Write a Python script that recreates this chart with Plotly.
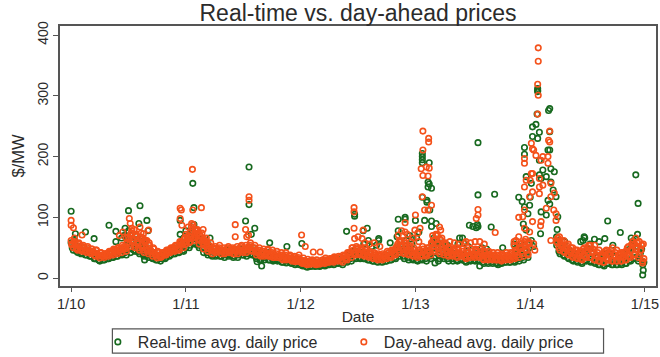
import plotly.graph_objects as go

N = None
# weekly readings of the dense band, one list per year
da_2010 = [62,50,56,46,52,44,50,42,46,40,44,36,40,33,38,34,40,36,44,38,46,40,48,42,52,44,68,52,62,50,60,46,54,42,50,40,46,36,40,33,38,35,42,38,46,42,50,44,54,46,60,50]
da_2011 = [56,64,60,80,62,72,56,66,48,60,44,52,40,48,44,50,40,46,42,50,42,48,40,48,44,52,42,50,46,54,44,50,38,46,36,44,38,46,36,42,34,40,34,38,30,38,32,36,28,34,28,34]
da_2012 = [30,24,28,22,28,24,28,22,26,24,30,24,28,26,32,26,32,28,34,26,36,30,42,34,46,38,48,38,46,36,42,34,40,32,38,30,36,30,38,32,42,34,46,38,56,42,54,40,50,38,46,36]
da_2013 = [40,34,46,36,44,36,50,38,62,44,56,40,52,38,46,36,44,36,44,34,42,36,40,32,42,34,40,34,44,34,40,30,38,30,38,30,36,30,36,28,36,30,36,30,38,32,42,34,50,36,52,40]
da_2014 = [N,N,N,N,N,N,N,N,N,N,N,N,60,50,56,44,52,40,46,36,42,34,40,32,48,36,50,34,44,30,38,28,36,26,44,30,42,28,38,28,38,28,40,30,50,36,56,38,52,34,46,28]

# second reading of the band, half a week later
da2_2010 = [56,66,48,58,46,54,44,52,42,48,38,46,36,42,36,40,38,42,40,46,42,50,46,50,48,58,56,78,54,72,50,68,46,62,44,54,40,48,36,42,34,40,38,44,42,48,46,52,48,58,54,66]
da2_2011 = [68,58,84,66,78,64,70,58,62,50,54,46,50,42,48,44,46,40,48,42,46,40,46,40,50,44,48,42,52,46,50,44,44,38,42,36,42,36,40,34,38,34,36,32,36,30,34,30,32,27,32,27]
da2_2012 = [25,29,23,27,23,28,23,27,23,27,25,30,26,29,28,33,29,34,29,36,32,40,38,50,40,50,40,48,38,46,36,42,33,40,32,38,32,37,34,41,36,44,40,52,46,60,42,54,40,50,38,46]
da2_2013 = [36,42,38,48,38,46,42,56,48,70,44,62,42,54,38,48,38,46,36,46,38,44,34,42,36,44,36,46,36,44,32,42,32,40,32,38,30,38,30,38,32,38,32,40,34,44,38,56,40,60,46,58]
da2_2014 = [N,N,N,N,N,N,N,N,N,N,N,N,66,46,60,42,54,38,50,34,46,32,44,30,50,34,54,34,48,30,42,28,38,26,46,30,46,28,42,28,40,28,42,30,52,34,60,40,58,38,54,32]

# third reading of the band, upper part
da3_2010 = [55,60,50,56,48,52,46,50,44,48,42,46,38,42,36,40,38,44,42,48,44,50,46,54,50,58,64,74,58,70,56,66,50,60,46,54,44,50,38,44,36,42,40,46,44,50,48,54,50,60,56,64]
da3_2011 = [60,70,68,88,68,80,62,74,54,66,48,58,44,52,46,54,44,50,44,52,44,50,44,52,46,54,46,54,48,58,46,54,42,50,40,48,40,48,38,46,36,44,36,42,34,42,32,38,30,36,30,38]
da3_2012 = [27,33,25,31,25,30,25,30,25,29,27,33,27,32,29,35,30,36,30,38,33,42,38,50,42,52,42,50,40,50,38,44,36,42,34,40,34,40,36,44,38,46,42,50,50,62,46,58,44,54,42,50]
da3_2013 = [38,46,42,52,40,50,44,58,52,72,50,64,46,56,42,50,40,48,40,50,40,48,36,46,38,48,38,48,38,48,36,44,34,44,34,42,32,42,32,40,34,42,34,42,36,46,38,50,44,56,46,60]
da3_2014 = [N,N,N,N,N,N,N,N,N,N,N,N,58,68,52,62,48,56,42,50,38,46,36,44,36,46,42,54,42,54,36,46,34,42,32,40,38,50,38,46,34,42,34,44,36,46,46,56,48,60,46,56]

rt_2010 = [58,46,50,42,48,41,46,38,42,36,40,32,36,28,34,30,36,32,40,34,42,36,44,38,48,38,62,42,58,44,54,40,48,36,44,34,40,32,36,30,34,32,38,34,42,38,46,40,50,42,56,44]
rt_2011 = [50,60,54,74,56,66,50,60,42,54,38,46,36,44,38,46,36,42,38,46,38,44,36,44,38,48,38,46,40,50,38,46,32,40,30,38,34,42,30,38,30,36,30,34,26,34,28,32,24,30,24,30]
rt_2012 = [26,20,24,18,24,20,24,20,22,20,26,20,24,22,28,22,28,24,30,22,32,26,38,28,42,32,44,32,42,32,38,30,36,28,34,26,32,26,34,28,38,30,42,32,50,36,48,32,44,30,40,30]
rt_2013 = [36,28,40,30,40,28,44,32,56,36,50,32,46,32,40,28,38,28,40,28,38,30,36,26,38,28,36,28,40,28,36,24,34,24,34,24,32,24,32,24,32,26,32,26,34,26,38,28,46,30,48,34]
rt_2014 = [N,N,N,N,N,N,N,N,N,N,N,N,54,44,50,38,46,34,40,30,36,28,36,26,42,30,46,28,40,26,34,22,32,22,40,24,38,22,34,22,34,24,36,24,46,30,52,32,48,28,42,22]

rt2_2010 = [50,62,44,52,40,50,38,46,36,42,32,40,30,36,30,36,32,36,34,40,36,44,40,46,42,54,48,72,46,64,44,60,40,54,38,46,34,42,30,36,28,34,32,38,36,42,40,46,42,52,46,58]
rt2_2011 = [62,50,78,58,70,54,64,50,56,42,48,38,44,36,42,36,40,34,42,36,40,34,40,34,44,38,42,36,46,40,44,36,38,30,36,30,36,30,34,28,32,28,30,26,30,25,28,25,27,22,27,22]
rt2_2012 = [21,25,19,23,19,24,19,23,19,23,21,26,22,25,24,29,25,30,25,32,28,36,32,44,34,44,34,42,32,40,30,36,28,34,27,32,27,32,28,36,30,38,34,46,40,54,36,48,34,44,32,40]
rt2_2013 = [30,36,32,42,32,40,36,50,42,62,38,54,36,48,32,42,32,40,30,40,32,38,28,36,30,38,30,40,30,38,26,36,26,34,26,32,25,32,25,32,26,32,26,34,28,38,32,50,34,54,38,50]
rt2_2014 = [N,N,N,N,N,N,N,N,N,N,N,N,58,40,54,36,48,32,44,28,40,26,38,24,44,28,48,26,42,24,36,22,32,20,40,24,40,22,36,22,34,22,36,24,46,28,54,34,52,32,48,26]

rt_out_x = [0.0,.037,.125,.2,.33,.39,.39,.47,.5,.59,.6,.66,.67,.64,.95,.95,1.06,1.07,1.07,1.21,1.52,1.55,1.55,1.6,1.57,1.62,1.66,1.73,1.88,2.01,
 2.40,2.47,2.47,2.58,2.545,2.59,2.68,2.68,2.78,2.85,2.85,2.91,2.91,3.0,3.06,3.06,3.06,3.06,3.12,3.12,3.11,3.11,3.14,3.06,3.10,3.10,3.125,3.08,3.14,3.14,3.18,3.17,3.2,
 3.545,3.545,3.545,3.54,3.47,3.50,3.53,3.69,3.66,3.385,3.41,3.56,3.72,3.76,4.675,4.785,4.92,4.94,4.935,4.98,4.985,4.47,4.475,4.56,4.65,
 3.90,3.93,3.95,3.95,3.95,3.965,3.98,3.995,4.0,4.01,4.02,4.02,4.05,4.08,4.065,4.065,4.065,4.065,4.06,4.08,4.11,4.08,4.095,4.14,4.17,4.16,4.17,4.155,4.17,4.18,4.21,4.01,4.09,3.94,3.965,4.095,4.14,4.17,4.20,4.225,4.24,4.235,4.155,4.18,4.03,3.87,3.90,3.97,4.25,4.27,
 .44,.46,.5,.54,.56,.62,.64,.96,.98,1.0,1.03,1.09,1.13,1.19,2.84,2.87,2.92,2.95,2.97,3.01,3.03,3.16,3.19,3.24,3.28,3.37,3.42,3.46,3.58,3.62,3.86,3.89,2.55,2.62,2.66,4.23,4.3,4.44,4.46,4.52,4.6,4.72,4.88,4.9]
rt_out_y = [110,73,76,65,87,77,60,82,111,90,119,95,78,30,95,72,156,88,116,66,94,183,121,82,72,27,20,58,52,57,
 77,105,102,82,78,62,65,62,58,97,78,100,97,95,200,205,190,195,190,155,150,158,148,133,128,125,112,95,85,94,90,25,28,
 223,137,85,88,87,85,83,138,84,66,66,20,22,50,94,75,170,123,72,5,13,68,66,64,65,
 133,126,117,215,204,167,106,120,133,156,249,233,253,240,230,309,312,307,270,194,178,170,164,167,279,276,241,211,211,180,175,62,73,89,79,109,104,122,145,134,101,80,128,158,52,48,52,45,62,55,
 66,70,78,62,70,66,56,60,66,78,70,66,60,56,68,60,62,70,56,66,76,66,60,58,54,56,58,52,50,48,56,54,56,52,54,68,60,60,62,56,60,54,66,62]

da_out_x = [0.0,0.0,.02,.095,.507,.515,.53,.6,.63,.675,.63,.66,.95,.96,.95,.965,1.057,1.06,1.135,1.05,1.095,1.15,1.43,1.43,1.52,1.55,1.55,1.53,1.545,2.008,2.04,2.11,2.17,
 2.465,2.465,2.465,2.47,2.5,2.535,2.545,2.69,2.85,2.91,2.91,2.995,3.0,3.04,3.065,3.115,3.115,3.065,3.05,3.095,3.12,3.065,3.11,3.06,3.08,3.11,3.14,3.21,3.22,3.43,3.545,3.545,3.53,3.695,
 4.07,4.07,4.065,4.07,4.065,4.17,4.16,4.17,4.01,4.02,4.03,3.95,3.95,4.05,4.11,4.095,4.155,4.155,4.01,4.02,3.965,4.0,3.95,4.08,4.08,4.18,4.11,4.02,3.995,4.08,4.18,4.21,3.95,3.90,3.935,4.14,4.205,4.225,4.225,4.02,4.095,4.09,3.95,3.995,3.875,3.86,4.03,4.04,3.98,4.18,4.92,4.95,4.97,4.98,
 .42,.45,.48,.52,.55,.57,.61,.65,.68,1.0,1.02,1.04,1.08,1.1,1.12,1.16,1.18,2.86,2.88,2.9,2.93,2.96,2.98,3.02,3.03,3.15,3.17,3.19,3.23,3.26,3.3,3.34,3.38,3.44,3.48,3.52,3.56,3.6,3.86,3.9,3.93,3.96,3.99,2.56,2.6,2.64,4.24,4.26]
da_out_y = [95,87,83,71,98,90,82,84,73,79,65,62,115,112,98,87,179,112,116,90,79,80,88,68,80,134,128,68,71,71,52,43,43,
 116,109,82,65,68,65,79,52,71,91,76,79,104,82,242,230,224,211,180,183,181,169,168,134,112,112,120,84,79,57,113,104,98,75,
 379,357,319,301,270,242,227,224,222,213,211,197,189,202,200,194,200,189,172,172,161,161,150,164,150,156,153,142,134,139,134,140,112,100,101,115,112,106,95,93,93,86,82,76,62,54,57,46,38,62,66,60,55,25,
 70,76,66,72,80,68,74,62,58,72,84,76,80,74,70,64,60,62,78,62,72,60,66,74,60,70,62,72,66,58,60,58,56,60,58,60,60,56,60,68,58,64,56,58,56,58,66,62]

series_names = ["Real-time avg. daily price", "Day-ahead avg. daily price"]
tick_vals = [10, 11, 12, 13, 14, 15]
tick_text = ["1/10", "1/11", "1/12", "1/13", "1/14", "1/15"]
y_ticks = [0, 100, 200, 300, 400]
GREEN, ORANGE = "#17691f", "#f4511a"


def band(first_year, offset, *years):
    xs, ys = [], []
    for k, vals in enumerate(years):
        for i, v in enumerate(vals):
            xs.append(first_year + k + (i + offset) / len(vals))
            ys.append(v)
    return xs, ys


rx, ry = band(10, 0, rt_2010, rt_2011, rt_2012, rt_2013, rt_2014)
rx2, ry2 = band(10, .5, rt2_2010, rt2_2011, rt2_2012, rt2_2013, rt2_2014)
dx, dy = band(10, 0, da_2010, da_2011, da_2012, da_2013, da_2014)
dx2, dy2 = band(10, .5, da2_2010, da2_2011, da2_2012, da2_2013, da2_2014)
dx3, dy3 = band(10, .25, da3_2010, da3_2011, da3_2012, da3_2013, da3_2014)
rx += rx2 + [10 + v for v in rt_out_x]
ry += ry2 + rt_out_y
dx += dx2 + dx3 + [10 + v for v in da_out_x]
dy += dy2 + dy3 + da_out_y


def ring(color):
    return dict(symbol="circle-open", size=5.5, color=color, line=dict(width=1.6, color=color))


fig = go.Figure()
fig.add_trace(go.Scatter(x=rx, y=ry, mode="markers", name=series_names[0], marker=ring(GREEN), cliponaxis=False))
fig.add_trace(go.Scatter(x=dx, y=dy, mode="markers", name=series_names[1], marker=ring(ORANGE), cliponaxis=False))

axis_col = "#555555"
font_col = "#2b2b2b"
fig.update_layout(
    width=660, height=357, autosize=False,
    margin=dict(l=59.5, r=3.5, t=26, b=71, autoexpand=False),
    paper_bgcolor="white", plot_bgcolor="white",
    font=dict(family="Liberation Sans", size=15, color=font_col),
    title=dict(text="Real-time vs. day-ahead prices", x=358 / 660, xanchor="center", y=0.965, yanchor="middle",
               font=dict(size=23, color=font_col)),
    xaxis=dict(range=[9.903, 15.096], tickvals=tick_vals, ticktext=tick_text, ticks="outside", ticklen=4,
               tickfont=dict(size=14.5), tickcolor=axis_col, showline=True, linecolor=axis_col, linewidth=1.5,
               mirror=True, showgrid=False, zeroline=False, title=dict(text="Date", standoff=0, font=dict(size=15.5))),
    yaxis=dict(range=[-13, 415], tickvals=y_ticks, ticks="outside", ticklen=5, tickangle=-90,
               tickfont=dict(size=14), tickcolor=axis_col, showline=True, linecolor=axis_col, linewidth=1.5,
               mirror=True, showgrid=False, zeroline=False, title=dict(text="$/MW", standoff=6, font=dict(size=16.5))),
    legend=dict(orientation="h", x=0.0635, xanchor="left", y=-0.15, yanchor="top",
                bgcolor="rgba(0,0,0,0)", borderwidth=0, entrywidth=201, entrywidthmode="pixels",
                font=dict(size=16), itemsizing="trace"),
    shapes=[dict(type="rect", xref="paper", yref="paper", x0=0.0879, x1=0.912, y0=-0.165, y1=-0.258,
                 line=dict(color=axis_col, width=1.2), layer="below")],
)
fig.write_html("out.html", config={"displayModeBar": False}, post_script="document.body.style.margin='0';")
